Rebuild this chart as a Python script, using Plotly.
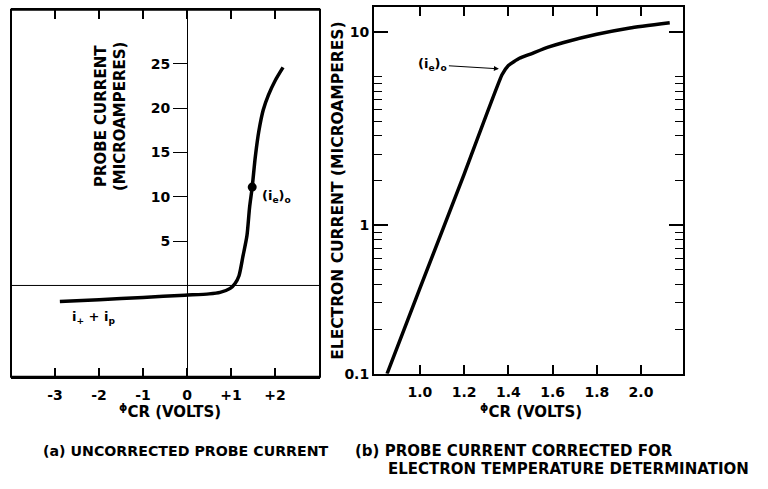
import math
import plotly.graph_objects as go

# (a) uncorrected probe current vs. phi_CR
probe_volts = [-2.89, -2.0, -1.0, -0.05, 0.5, 0.75, 0.98, 1.09, 1.18, 1.27, 1.36,
               1.42, 1.48, 1.55, 1.63, 1.73, 1.85, 2.0, 2.18]
probe_current = [-1.8, -1.6, -1.35, -1.1, -0.95, -0.78, -0.33, 0.22, 1.1, 3.3, 5.6,
                 8.8, 11.1, 14.5, 17.4, 19.8, 21.5, 23.1, 24.6]
ie0_volts = [1.48]
ie0_current = [11.1]

# (b) electron current (log scale) vs. phi_CR
elec_volts = [0.851, 1.0, 1.2, 1.371, 1.40, 1.45, 1.50, 1.58, 1.65, 1.80, 1.95, 2.13]
elec_current = [0.1, 0.377, 2.21, 10.3, 11.9, 13.3, 14.2, 15.8, 17.0, 19.3, 21.3, 23.1]
knee_volts = 1.357
knee_current = 11.3

# tick labels
a_x_ticks = [-3, -2, -1, 0, 1, 2]
a_x_text = ["-3", "-2", "-1", "0", "+1", "+2"]
a_y_ticks = [5, 10, 15, 20, 25]
a_y_text = ["5", "10", "15", "20", "25"]
b_x_ticks = [1.0, 1.2, 1.4, 1.6, 1.8, 2.0]
b_x_text = ["1.0", "1.2", "1.4", "1.6", "1.8", "2.0"]
b_y_ticks = [0.1, 1, 20]
b_y_text = ["0.1", "1", "10"]
b_y_minor = [0.2, 0.3, 0.4, 0.5, 0.6, 0.7, 0.8, 0.9, 2, 3, 4, 5, 6, 7, 8, 9, 10]

FONT = "DejaVu Sans"
W, H = 768, 489


def px(x):
    return x / W


def py(y):
    return 1 - y / H


fig = go.Figure()
fig.add_trace(go.Scatter(x=probe_volts, y=probe_current, mode="lines",
                         line=dict(color="black", width=3.5, shape="spline", smoothing=0.7),
                         xaxis="x", yaxis="y", showlegend=False, hoverinfo="skip"))
fig.add_trace(go.Scatter(x=ie0_volts, y=ie0_current, mode="markers",
                         marker=dict(color="black", size=9),
                         xaxis="x", yaxis="y", showlegend=False, hoverinfo="skip"))
fig.add_trace(go.Scatter(x=elec_volts, y=elec_current, mode="lines",
                         line=dict(color="black", width=3.5, shape="spline", smoothing=0.4),
                         xaxis="x2", yaxis="y2", showlegend=False, hoverinfo="skip"))

tickfont = dict(family=FONT, size=14, color="black", weight="bold")

fig.update_layout(
    width=W, height=H,
    margin=dict(l=0, r=0, t=0, b=0),
    paper_bgcolor="white", plot_bgcolor="white",
    font=dict(family=FONT, color="black"),
    xaxis=dict(domain=[px(11), px(320)], range=[-4.0, 3.02], anchor="y",
               tickmode="array", tickvals=a_x_ticks, ticktext=a_x_text,
               ticks="inside", ticklen=9, tickwidth=1.5, tickcolor="black",
               ticklabelstandoff=4,
               showline=True, linewidth=2, linecolor="black", mirror="ticks",
               showgrid=False, zeroline=False, tickfont=tickfont),
    yaxis=dict(domain=[py(383), py(10)], range=[-10.3, 31.1], anchor="free",
               position=px(187),
               tickmode="array", tickvals=a_y_ticks, ticktext=a_y_text,
               ticks="outside", ticklen=14, tickwidth=1.2, tickcolor="black",
               showline=True, linewidth=1, linecolor="black",
               showgrid=False, zeroline=False, tickfont=tickfont),
    xaxis2=dict(domain=[px(374), px(683)], range=[0.792, 2.19], anchor="y2",
                tickmode="array", tickvals=b_x_ticks, ticktext=b_x_text,
                ticks="inside", ticklen=9, tickwidth=1.5, tickcolor="black",
                ticklabelstandoff=4,
                showline=True, linewidth=2, linecolor="black", mirror="ticks",
                showgrid=False, zeroline=False, tickfont=tickfont),
    yaxis2=dict(domain=[py(380), py(7)], type="log", range=[-1, 1.47], anchor="x2",
                tickmode="array", tickvals=b_y_ticks, ticktext=b_y_text,
                ticks="inside", ticklen=14, tickwidth=1.5, tickcolor="black",
                minor=dict(tickmode="array", tickvals=b_y_minor, ticks="inside",
                           ticklen=8, tickwidth=1.2, tickcolor="black", showgrid=False),
                showline=True, linewidth=2, linecolor="black", mirror="ticks",
                showgrid=False, zeroline=False, tickfont=tickfont),
)

# frame of panel (a) and its horizontal zero line
fig.add_shape(type="rect", xref="x domain", yref="y domain", x0=0, x1=1, y0=0, y1=1,
              line=dict(color="black", width=2))
fig.add_shape(type="line", xref="x domain", yref="y", x0=0, x1=1, y0=0, y1=0,
              line=dict(color="black", width=1))

ann_font = dict(family=FONT, size=13, color="black", weight="bold")
title_font = dict(family=FONT, size=15, color="black", weight="bold")
title_font_b = dict(family=FONT, size=15.5, color="black", weight="bold")
cap_font_a = dict(family=FONT, size=14.2, color="black", weight="bold")
cap_font_b = dict(family=FONT, size=15, color="black", weight="bold")

annotations = [
    # panel (a) labels
    dict(xref="x", yref="y", x=1.66, y=10.0, text="(i<sub>e</sub>)<sub>o</sub>",
         showarrow=False, xanchor="left", yanchor="middle", font=ann_font),
    dict(xref="x", yref="y", x=-2.66, y=-3.6, text="i<sub>+</sub> + i<sub>p</sub>",
         showarrow=False, xanchor="left", yanchor="middle", font=ann_font),
    dict(xref="paper", yref="paper", x=px(111), y=py(118),
         text="PROBE CURRENT<br>(MICROAMPERES)", textangle=-90, align="center",
         showarrow=False, xanchor="center", yanchor="middle", font=title_font),
    dict(xref="paper", yref="paper", x=px(170), y=py(418),
         text="<sup>ϕ</sup>CR (VOLTS)", showarrow=False,
         xanchor="center", yanchor="middle", font=title_font),
    # panel (b) labels; log axis positions are given as log10 values
    dict(xref="x2", yref="y2", x=knee_volts, y=math.log10(knee_current), ax=-66, ay=-4,
         text="(i<sub>e</sub>)<sub>o</sub>", showarrow=True, arrowhead=2,
         arrowsize=1, arrowwidth=1, arrowcolor="black", font=ann_font),
    dict(xref="paper", yref="paper", x=px(338), y=py(194),
         text="ELECTRON CURRENT (MICROAMPERES)", textangle=-90,
         showarrow=False, xanchor="center", yanchor="middle", font=title_font_b),
    dict(xref="paper", yref="paper", x=px(531), y=py(418),
         text="<sup>ϕ</sup>CR (VOLTS)", showarrow=False,
         xanchor="center", yanchor="middle", font=title_font),
    # captions
    dict(xref="paper", yref="paper", x=px(41), y=py(458),
         text="(a) UNCORRECTED PROBE CURRENT", showarrow=False,
         xanchor="left", yanchor="middle", font=cap_font_a),
    dict(xref="paper", yref="paper", x=px(353), y=py(458),
         text="(b) PROBE CURRENT CORRECTED FOR", showarrow=False,
         xanchor="left", yanchor="middle", font=cap_font_b),
    dict(xref="paper", yref="paper", x=px(386), y=py(477),
         text="ELECTRON TEMPERATURE DETERMINATION", showarrow=False,
         xanchor="left", yanchor="middle", font=cap_font_b),
]
fig.update_layout(annotations=annotations)

fig.write_html("out.html")
